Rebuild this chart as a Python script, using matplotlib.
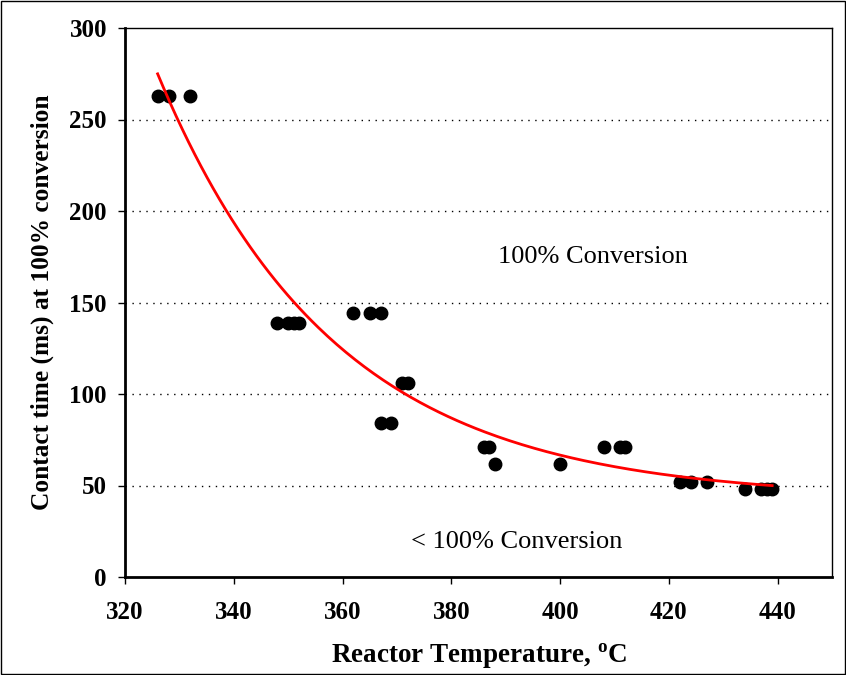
import matplotlib.pyplot as plt
import numpy as np

plt.rcParams['font.family'] = ['Liberation Serif', 'DejaVu Serif']
plt.rcParams['mathtext.fontset'] = 'custom'
plt.rcParams['mathtext.rm'] = 'Liberation Serif'
plt.rcParams['mathtext.bf'] = 'Liberation Serif:bold'

# reactor temperature (C) and contact time (ms) for full conversion
temp = [326, 328, 332, 348, 350, 351, 352, 362, 365, 367, 371, 372, 367, 369,
        386, 387, 388, 400, 408, 411, 412, 422, 424, 427, 434, 437, 438, 439]
contact = [263, 263, 263, 139, 139, 139, 139, 144, 144, 144, 106, 106, 84, 84,
           71, 71, 62, 62, 71, 71, 71, 52, 52, 52, 48, 48, 48, 48]

x_ticks = [320, 340, 360, 380, 400, 420, 440]
y_ticks = [0, 50, 100, 150, 200, 250, 300]

# trendline: decaying exponential with offset, y = c + A*exp(-k*(x - x0))
tx = np.array(temp, dtype=float)
ty = np.array(contact, dtype=float)
best = None
for k in np.linspace(0.005, 0.08, 400):
    M = np.column_stack([np.ones_like(tx), np.exp(-k * (tx - tx.min()))])
    coef, res, _, _ = np.linalg.lstsq(M, ty, rcond=None)
    err = np.sum((M @ coef - ty) ** 2)
    if best is None or err < best[0]:
        best = (err, k, coef)
_, k, (c, A) = best
xf = np.linspace(tx.min(), tx.max(), 200)
yf = c + A * np.exp(-k * (xf - tx.min()))

fig = plt.figure(figsize=(8.46, 6.75), dpi=100)
ax = fig.add_axes([125/846, 98/675, 707/846, 549/675])

for g in [50, 100, 150, 200, 250]:
    ax.axhline(g, color='black', linestyle=(0, (1, 4)), linewidth=1, zorder=0)

ax.plot(temp, contact, 'o', color='black', markersize=9, zorder=2)
ax.plot(xf, yf, color='red', linewidth=2, zorder=3)

ax.text(406, 175, '100% Conversion', fontsize=19, ha='center', va='center')
ax.text(392, 19, '< 100% Conversion', fontsize=19, ha='center', va='center')

ax.set_xlim(320, 450)
ax.set_ylim(0, 300)
ax.set_xticks(x_ticks)
ax.set_yticks(y_ticks)
ax.tick_params(axis='both', direction='out', length=5, width=1, labelsize=18)
ax.tick_params(axis='x', pad=12)
ax.tick_params(axis='y', pad=8)
for lab in ax.get_xticklabels() + ax.get_yticklabels():
    lab.set_fontweight('bold')

for s in ax.spines.values():
    s.set_linewidth(1)
ax.spines['left'].set_linewidth(2)
ax.spines['bottom'].set_linewidth(2)

ax.set_xlabel('Reactor Temperature, $^{\\mathbf{o}}$C', fontsize=19.5, fontweight='bold')
ax.set_ylabel('Contact time (ms) at 100% conversion', fontsize=18.3, fontweight='bold')
ax.xaxis.set_label_coords(0.5, -0.118)
ax.yaxis.set_label_coords(-0.1, 0.5)

fig.patches.append(plt.Rectangle((0.001, 0.001), 0.998, 0.998, transform=fig.transFigure,
                                 fill=False, edgecolor='black', linewidth=1))

fig.savefig('out.png', dpi=100)
